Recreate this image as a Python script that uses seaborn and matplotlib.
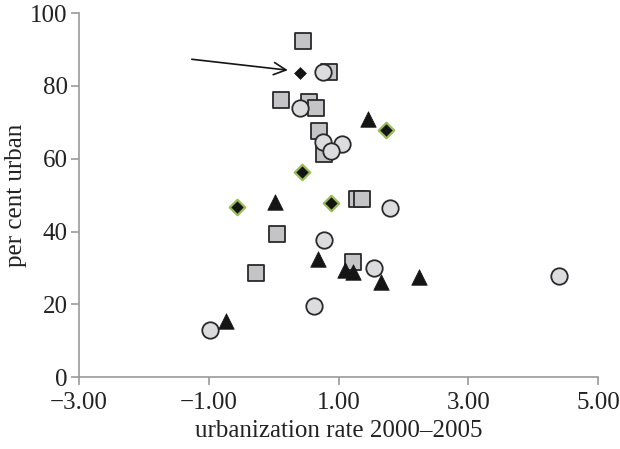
import matplotlib
matplotlib.use("Agg")
import matplotlib.pyplot as plt
import seaborn as sns

# values
square_x = [0.45, 0.86, 0.12, 0.55, 0.65, 0.70, 0.77, 1.28, 1.36, 0.05, 1.23, -0.27]
square_y = [92.2, 83.8, 76.0, 75.6, 74.0, 67.6, 61.2, 48.9, 48.9, 39.3, 31.5, 28.6]

circle_x = [0.76, 0.41, 0.76, 1.06, 0.89, 1.79, 0.78, 1.54, 0.62, -0.98, 4.40]
circle_y = [83.8, 74.0, 64.5, 63.9, 62.1, 46.4, 37.7, 29.9, 19.6, 12.9, 27.9]

triangle_x = [1.46, 0.02, 0.69, 1.10, 1.22, 1.66, 2.24, -0.74]
triangle_y = [71.0, 48.0, 32.4, 29.3, 29.0, 26.0, 27.6, 15.4]

green_diamond_x = [1.73, 0.43, -0.57, 0.89]
green_diamond_y = [67.9, 56.3, 46.7, 47.8]

marked_x = [0.40]
marked_y = [83.4]

# arrow pointing at the marked point
arrow_start = (-1.26, 87.3)
arrow_end = (0.22, 84.3)

sns.set_style("ticks")
plt.rcParams['font.family'] = ['Liberation Serif', 'DejaVu Serif']

fig, ax = plt.subplots(figsize=(6.2, 4.49), dpi=100)
fig.subplots_adjust(left=0.127, right=0.965, top=0.971, bottom=0.16)

sns.scatterplot(x=square_x, y=square_y, marker='s', s=120, color='#c4c4c6',
                edgecolor='#2a2a2a', linewidth=1.3, ax=ax, zorder=3)
sns.scatterplot(x=circle_x, y=circle_y, marker='o', s=140, color='#dcdcde',
                edgecolor='#2a2a2a', linewidth=1.3, ax=ax, zorder=4)
sns.scatterplot(x=triangle_x, y=triangle_y, marker='^', s=125, color='#151515',
                edgecolor='#151515', linewidth=0.5, ax=ax, zorder=5)
sns.scatterplot(x=green_diamond_x, y=green_diamond_y, marker='D', s=62, color='#151515',
                edgecolor='#9bbb59', linewidth=1.6, ax=ax, zorder=6)
sns.scatterplot(x=marked_x, y=marked_y, marker='D', s=36, color='#151515',
                edgecolor='#151515', linewidth=0.5, ax=ax, zorder=6)

ax.annotate('', xy=arrow_end, xytext=arrow_start,
            arrowprops=dict(arrowstyle='->', color='#151515', lw=1.2,
                            mutation_scale=22, shrinkA=0, shrinkB=0))

ax.set_xlim(-3, 5)
ax.set_ylim(0, 100)
ax.set_xticks([-3, -1, 1, 3, 5])
ax.set_xticklabels(['\u22123.00', '\u22121.00', '1.00', '3.00', '5.00'])
ax.set_yticks([0, 20, 40, 60, 80, 100])

ax.set_xlabel('urbanization rate 2000\u20132005', fontsize=18, color='#222222', labelpad=4)
ax.set_ylabel('per cent urban', fontsize=18, color='#222222', labelpad=2)
ax.tick_params(labelsize=18, colors='#999999', labelcolor='#222222', length=6, width=1.2)
ax.tick_params(axis='x', pad=5)
ax.tick_params(axis='y', pad=2)
for side in ['left', 'bottom']:
    ax.spines[side].set_color('#999999')
    ax.spines[side].set_linewidth(1.2)
sns.despine(ax=ax)

plt.savefig('out.png', dpi=100)
